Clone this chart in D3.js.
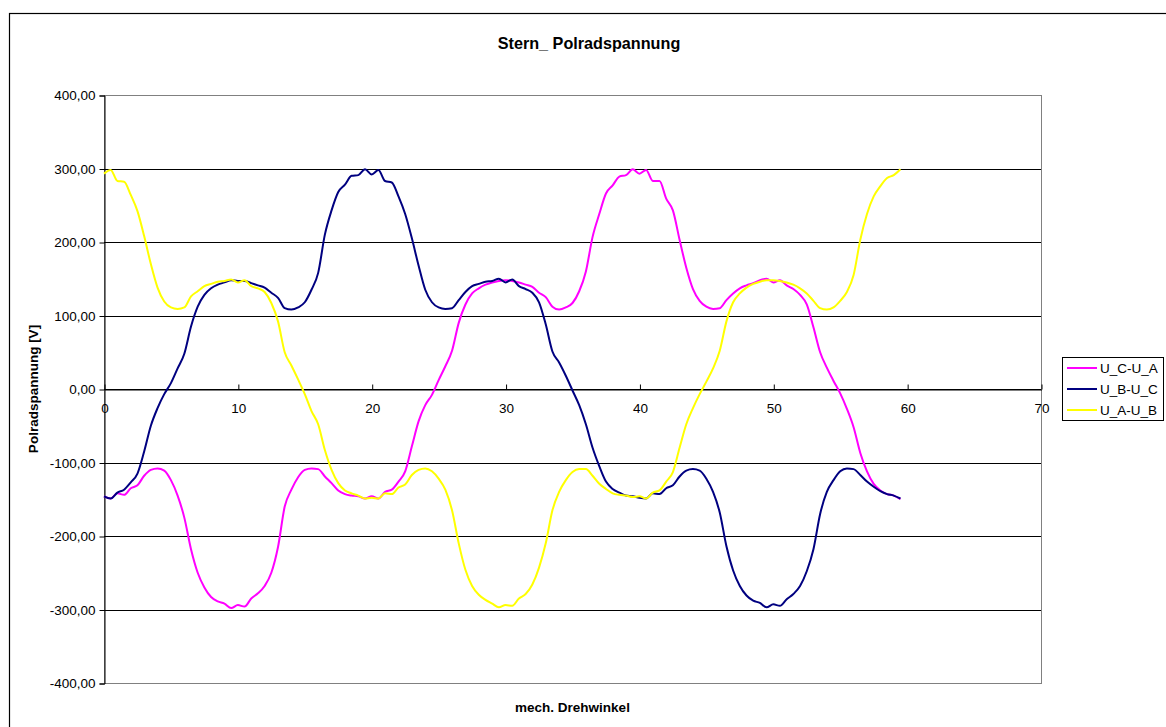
<!DOCTYPE html>
<html>
<head>
<meta charset="utf-8">
<script src="https://cdn.jsdelivr.net/npm/d3@7"></script>
<style>
  html, body { margin: 0; padding: 0; background: #fff; }
  svg { display: block; font-family: "Liberation Sans", Arial, sans-serif; }
</style>
</head>
<body>
<svg id="chart" width="1166" height="727"></svg>
<script>
// ---- data ----
const angleStep = 0.5;               // mech. angle spacing of the samples
const seriesNames = ["U_C-U_A", "U_B-U_C", "U_A-U_B"];
const seriesColors = ["#FF00FF", "#000080", "#FFFF00"];

const uCA = [
  -146,-149,-142,-144,-135,-131,-118,-110,-108,-111,-124,-145,-175,-218,-250,-270,-283,-289,-292,-298,
  -294,-296,-285,-278,-268,-250,-215,-160,-137,-120,-110,-108,-109,-119,-128,-138,-143,-145,-146,-149,
  -146,-149,-140,-137,-126,-112,-78,-44,-22,-8,12,31,52,90,115,130,137,142,145,147,
  148,147,145,142,139,131,125,112,108,111,117,133,160,207,238,266,277,289,291,299,
  293,298,283,283,259,243,203,165,136,120,112,109,110,121,130,137,141,144,148,150,
  145,148,141,136,128,115,84,50,29,11,-6,-27,-52,-87,-112,-129,-138,-143,-145,-150
];
const uBC = [
  -146,-149,-141,-137,-127,-115,-85,-50,-26,-7,8,28,48,85,112,128,137,142,145,148,
  147,147,144,141,138,131,124,110,108,111,118,135,158,210,243,268,278,290,291,299,
  292,298,283,281,262,238,205,168,135,118,111,109,110,121,132,140,143,146,147,150,
  145,149,140,136,131,118,88,51,36,18,-2,-22,-48,-80,-105,-126,-136,-141,-145,-146,
  -148,-149,-142,-143,-135,-131,-119,-111,-109,-111,-122,-140,-168,-214,-247,-268,-281,-288,-291,-297,
  -293,-295,-286,-279,-268,-248,-218,-170,-140,-124,-112,-108,-109,-117,-126,-133,-139,-143,-145,-149
];
const uAB = [
  293,298,283,282,264,242,208,170,138,119,111,109,111,126,133,140,143,146,147,149,
  145,148,140,137,132,117,92,50,32,13,-7,-30,-48,-83,-110,-128,-138,-142,-145,-149,
  -148,-149,-142,-143,-134,-130,-117,-110,-108,-112,-122,-137,-165,-210,-246,-268,-280,-287,-292,-297,
  -294,-295,-285,-279,-266,-243,-210,-165,-140,-124,-113,-109,-109,-118,-129,-136,-142,-144,-145,-147,
  -146,-149,-141,-138,-126,-113,-80,-48,-26,-7,10,28,52,92,118,130,138,143,146,148,
  148,147,145,142,137,130,120,110,108,111,120,132,155,203,238,262,276,287,291,299
];
const xTicks = [0, 10, 20, 30, 40, 50, 60, 70];
const yTicks = [-400, -300, -200, -100, 0, 100, 200, 300, 400];

const titleText = "Stern_ Polradspannung";
const xTitle = "mech. Drehwinkel";
const yTitle = "Polradspannung [V]";

// ---- layout ----
const svg = d3.select("#chart");
const plot = { left: 104, right: 1041, top: 95, bottom: 683 };
const FS = 13.5;

const x = d3.scaleLinear().domain([0, 70]).range([plot.left, plot.right]);
const y = d3.scaleLinear().domain([-400, 400]).range([plot.bottom, plot.top]);

const locale = d3.formatLocale({ decimal: ",", thousands: ".", grouping: [3], currency: ["", "€"], minus: "-" });
const fmtY = locale.format(".2f");

// chart area border
svg.append("rect")
  .attr("x", 9.5).attr("y", 13.5).attr("width", 1180).attr("height", 740)
  .attr("fill", "#fff").attr("stroke", "#000").attr("stroke-width", 1.2);

// plot area border
svg.append("rect")
  .attr("x", plot.left + 0.5).attr("y", plot.top + 0.5)
  .attr("width", plot.right - plot.left).attr("height", plot.bottom - plot.top)
  .attr("fill", "#fff").attr("stroke", "#808080").attr("stroke-width", 1);

// gridlines
svg.append("g").selectAll("line").data(yTicks).join("line")
  .attr("x1", plot.left).attr("x2", plot.right)
  .attr("y1", d => Math.round(y(d)) + 0.5).attr("y2", d => Math.round(y(d)) + 0.5)
  .attr("stroke", d => (d === 400 || d === -400) ? "#808080" : "#000")
  .attr("stroke-width", 1);

// y axis
const yAxis = svg.append("g")
  .attr("transform", `translate(${plot.left + 0.5},0.5)`)
  .call(d3.axisLeft(y).tickValues(yTicks).tickFormat(fmtY).tickSize(5).tickPadding(4));
yAxis.selectAll("text").attr("font-size", FS).attr("fill", "#000")
  .attr("font-family", '"Liberation Sans", Arial, sans-serif');
yAxis.selectAll("line, path").attr("stroke", "#000");

// x axis at value 0
const xAxis = svg.append("g")
  .attr("transform", `translate(0.5,${Math.round(y(0)) + 0.5})`)
  .call(d3.axisBottom(x).tickValues(xTicks).tickFormat(d3.format("d")).tickSizeInner(-5).tickSizeOuter(0).tickPadding(14));
xAxis.selectAll("text").attr("font-size", FS).attr("fill", "#000")
  .attr("font-family", '"Liberation Sans", Arial, sans-serif');
xAxis.selectAll("line, path").attr("stroke", "#000");

// series lines
const seriesData = [uCA, uBC, uAB];
const line = d3.line()
  .x((d, i) => x(i * angleStep))
  .y(d => y(d))
  .curve(d3.curveMonotoneX);

svg.append("g").selectAll("path").data(seriesData).join("path")
  .attr("d", d => line(d))
  .attr("fill", "none")
  .attr("stroke", (d, i) => seriesColors[i])
  .attr("stroke-width", 2)
  .attr("stroke-linejoin", "round");

// titles
svg.append("text")
  .attr("x", 589).attr("y", 49)
  .attr("text-anchor", "middle").attr("font-weight", "bold").attr("font-size", 16.2)
  .text(titleText);

svg.append("text")
  .attr("x", (plot.left + plot.right) / 2).attr("y", 712)
  .attr("text-anchor", "middle").attr("font-weight", "bold").attr("font-size", FS)
  .text(xTitle);

svg.append("text")
  .attr("transform", `translate(38,${(plot.top + plot.bottom) / 2}) rotate(-90)`)
  .attr("text-anchor", "middle").attr("font-weight", "bold").attr("font-size", FS)
  .text(yTitle);

// legend
const legend = svg.append("g").attr("transform", "translate(1062,357)");
legend.append("rect")
  .attr("x", 0.5).attr("y", 0.5).attr("width", 101).attr("height", 63)
  .attr("fill", "#fff").attr("stroke", "#000").attr("stroke-width", 1);
const entries = legend.selectAll("g.entry").data(seriesNames).join("g")
  .attr("class", "entry")
  .attr("transform", (d, i) => `translate(0,${11 + i * 21})`);
entries.append("line")
  .attr("x1", 5).attr("x2", 35).attr("y1", 0).attr("y2", 0)
  .attr("stroke", (d, i) => seriesColors[i]).attr("stroke-width", 2);
entries.append("text")
  .attr("x", 38).attr("y", 0).attr("dy", "0.36em")
  .attr("font-size", FS)
  .text(d => d);
</script>
</body>
</html>
